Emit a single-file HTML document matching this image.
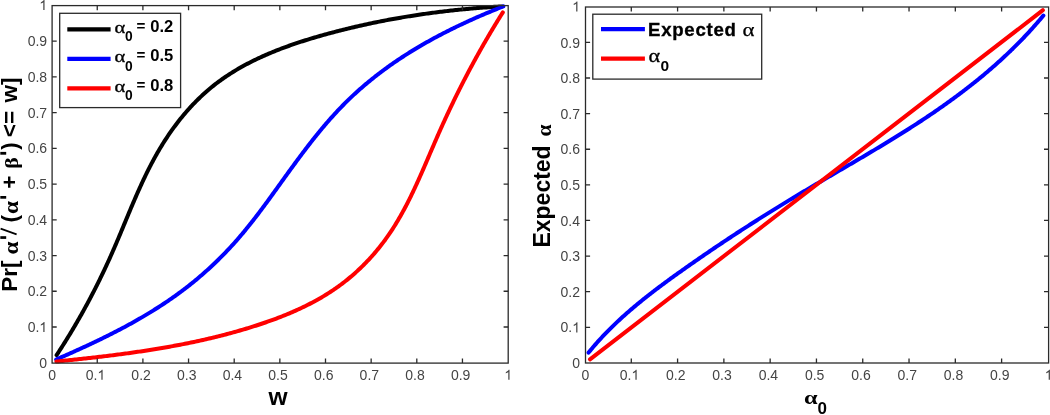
<!DOCTYPE html>
<html><head><meta charset="utf-8"><style>
html,body{margin:0;padding:0;background:#fff;}
body{width:1050px;height:415px;overflow:hidden;position:relative;}
svg{position:absolute;left:0;top:0;will-change:transform;}
.tk{font-family:"Liberation Sans",sans-serif;font-size:14px;fill:#444444;}
.b{font-family:"Liberation Sans",sans-serif;font-weight:bold;fill:#000;}
.g{font-family:"Liberation Serif",serif;fill:#000;}
</style></head><body>
<svg width="1050" height="415" viewBox="0 0 1050 415">
<rect width="1050" height="415" fill="#fff"/>
<g fill="none" stroke-linejoin="round" stroke-linecap="round" stroke-width="4.0">
<polyline points="56.59,355.17 57.44,353.87 58.29,352.57 59.14,351.26 59.98,349.95 60.82,348.65 61.66,347.34 62.49,346.03 63.32,344.72 64.15,343.40 64.97,342.09 65.80,340.77 66.61,339.46 67.43,338.14 68.24,336.82 69.05,335.50 69.85,334.17 70.65,332.85 71.45,331.52 72.24,330.19 73.04,328.87 73.82,327.54 74.61,326.20 75.39,324.87 76.17,323.54 76.95,322.20 77.72,320.86 78.49,319.52 79.25,318.18 80.02,316.84 80.78,315.50 81.54,314.15 82.29,312.80 83.04,311.45 83.79,310.10 84.53,308.75 85.27,307.40 86.01,306.05 86.75,304.69 87.48,303.33 88.21,301.97 88.94,300.61 89.66,299.25 90.38,297.89 91.10,296.52 91.81,295.15 92.52,293.79 93.23,292.42 93.94,291.04 94.64,289.67 95.34,288.30 96.03,286.92 96.73,285.54 97.42,284.16 98.10,282.78 98.79,281.40 99.47,280.01 100.15,278.63 100.83,277.24 101.50,275.85 102.17,274.46 102.84,273.07 103.50,271.67 104.16,270.28 104.82,268.88 105.47,267.48 106.13,266.08 106.78,264.68 107.42,263.27 108.07,261.87 108.71,260.46 109.35,259.05 109.98,257.64 110.62,256.23 111.25,254.81 111.88,253.40 112.50,251.98 113.12,250.56 113.74,249.14 114.36,247.72 114.97,246.29 115.58,244.87 116.19,243.44 116.80,242.01 117.41,240.58 118.01,239.15 118.62,237.72 119.22,236.29 119.82,234.86 120.42,233.42 121.02,231.99 121.62,230.56 122.21,229.12 122.81,227.68 123.41,226.25 124.00,224.81 124.60,223.38 125.19,221.94 125.79,220.50 126.39,219.07 126.98,217.63 127.58,216.19 128.18,214.76 128.78,213.32 129.38,211.89 129.98,210.45 130.58,209.02 131.18,207.59 131.79,206.15 132.40,204.72 133.00,203.29 133.61,201.86 134.23,200.43 134.84,199.01 135.46,197.58 136.08,196.16 136.70,194.73 137.33,193.31 137.95,191.89 138.58,190.47 139.22,189.06 139.86,187.64 140.50,186.23 141.14,184.82 141.79,183.41 142.44,182.00 143.10,180.60 143.76,179.20 144.42,177.80 145.09,176.40 145.76,175.00 146.44,173.61 147.13,172.22 147.81,170.84 148.51,169.45 149.20,168.07 149.91,166.69 150.62,165.32 151.33,163.95 152.05,162.58 152.78,161.21 153.51,159.85 154.25,158.49 155.00,157.14 155.75,155.79 156.51,154.44 157.27,153.10 158.04,151.76 158.82,150.42 159.61,149.09 160.40,147.76 161.20,146.44 162.01,145.12 162.82,143.81 163.65,142.50 164.48,141.19 165.31,139.89 166.16,138.60 167.01,137.31 167.86,136.02 168.73,134.74 169.60,133.47 170.48,132.20 171.37,130.93 172.26,129.68 173.17,128.42 174.07,127.18 174.99,125.94 175.91,124.70 176.85,123.47 177.78,122.25 178.73,121.03 179.68,119.82 180.64,118.62 181.61,117.43 182.59,116.24 183.57,115.05 184.56,113.88 185.56,112.71 186.56,111.55 187.58,110.39 188.60,109.24 189.62,108.10 190.66,106.97 191.70,105.85 192.75,104.73 193.81,103.62 194.88,102.52 195.95,101.43 197.03,100.34 198.12,99.27 199.21,98.20 200.32,97.14 201.43,96.09 202.55,95.05 203.67,94.02 204.81,92.99 205.95,91.98 207.10,90.97 208.26,89.97 209.42,88.98 210.59,88.01 211.77,87.04 212.96,86.08 214.16,85.13 215.36,84.19 216.57,83.26 217.79,82.34 219.02,81.43 220.25,80.52 221.49,79.63 222.74,78.75 223.99,77.88 225.26,77.01 226.52,76.16 227.80,75.31 229.08,74.47 230.37,73.64 231.67,72.82 232.97,72.01 234.28,71.21 235.59,70.41 236.91,69.63 238.24,68.85 239.57,68.08 240.90,67.32 242.25,66.57 243.60,65.82 244.95,65.08 246.31,64.35 247.68,63.63 249.05,62.92 250.42,62.21 251.80,61.51 253.19,60.82 254.58,60.14 255.98,59.46 257.38,58.79 258.78,58.13 260.19,57.48 261.60,56.83 263.02,56.19 264.44,55.56 265.87,54.93 267.30,54.31 268.73,53.69 270.17,53.09 271.61,52.49 273.05,51.89 274.50,51.30 275.95,50.72 277.41,50.15 278.87,49.58 280.33,49.01 281.79,48.46 283.26,47.90 284.73,47.36 286.20,46.82 287.68,46.28 289.16,45.75 290.64,45.23 292.12,44.71 293.61,44.20 295.09,43.69 296.58,43.19 298.07,42.69 299.57,42.20 301.06,41.71 302.56,41.23 304.06,40.75 305.56,40.28 307.06,39.81 308.56,39.34 310.06,38.88 311.57,38.43 313.07,37.98 314.58,37.53 316.09,37.09 317.60,36.65 319.10,36.21 320.61,35.78 322.12,35.36 323.63,34.93 325.14,34.51 326.65,34.10 328.17,33.68 329.68,33.28 331.19,32.87 332.70,32.47 334.21,32.07 335.72,31.67 337.23,31.28 338.74,30.89 340.24,30.50 341.75,30.12 343.26,29.74 344.77,29.37 346.28,28.99 347.79,28.62 349.30,28.26 350.81,27.90 352.32,27.54 353.83,27.18 355.34,26.82 356.85,26.47 358.35,26.13 359.86,25.78 361.37,25.44 362.88,25.10 364.39,24.77 365.90,24.44 367.41,24.11 368.92,23.79 370.43,23.46 371.94,23.14 373.45,22.83 374.96,22.52 376.47,22.21 377.98,21.90 379.49,21.59 381.00,21.29 382.51,21.00 384.03,20.70 385.54,20.41 387.05,20.12 388.56,19.84 390.07,19.55 391.59,19.27 393.10,19.00 394.61,18.72 396.13,18.45 397.64,18.19 399.16,17.92 400.67,17.66 402.19,17.40 403.70,17.14 405.22,16.89 406.73,16.64 408.25,16.39 409.77,16.15 411.29,15.91 412.80,15.67 414.32,15.43 415.84,15.20 417.36,14.97 418.88,14.74 420.40,14.52 421.92,14.29 423.44,14.07 424.97,13.86 426.49,13.64 428.01,13.43 429.54,13.23 431.06,13.02 432.59,12.82 434.11,12.62 435.64,12.42 437.17,12.23 438.69,12.04 440.22,11.85 441.75,11.66 443.28,11.48 444.81,11.30 446.34,11.12 447.88,10.94 449.41,10.77 450.94,10.60 452.48,10.43 454.01,10.27 455.55,10.10 457.08,9.94 458.62,9.79 460.16,9.63 461.70,9.48 463.24,9.33 464.78,9.18 466.32,9.04 467.86,8.90 469.41,8.76 470.95,8.62 472.50,8.48 474.04,8.35 475.59,8.22 477.14,8.10 478.69,7.97 480.24,7.85 481.79,7.73 483.34,7.61 484.89,7.50 486.45,7.39 488.00,7.28 489.56,7.17 491.12,7.06 492.68,6.96 494.24,6.86 495.80,6.76 497.36,6.67 498.92,6.57 500.48,6.48 502.05,6.40" stroke="#000"/>
<polyline points="56.15,359.47 57.46,358.90 58.77,358.34 60.08,357.77 61.39,357.19 62.70,356.62 64.02,356.05 65.33,355.47 66.65,354.89 67.96,354.31 69.28,353.73 70.59,353.14 71.91,352.56 73.23,351.97 74.54,351.38 75.86,350.79 77.18,350.19 78.50,349.59 79.81,349.00 81.13,348.39 82.45,347.79 83.77,347.19 85.08,346.58 86.40,345.97 87.72,345.35 89.04,344.74 90.35,344.12 91.67,343.50 92.99,342.88 94.30,342.26 95.62,341.63 96.93,341.00 98.24,340.37 99.56,339.73 100.87,339.09 102.18,338.45 103.49,337.81 104.80,337.17 106.11,336.52 107.42,335.87 108.73,335.21 110.03,334.56 111.34,333.90 112.64,333.23 113.95,332.57 115.25,331.90 116.55,331.23 117.85,330.55 119.15,329.88 120.44,329.20 121.74,328.51 123.03,327.83 124.32,327.14 125.61,326.44 126.90,325.75 128.19,325.05 129.47,324.35 130.75,323.64 132.04,322.93 133.32,322.22 134.59,321.50 135.87,320.78 137.14,320.06 138.41,319.33 139.68,318.60 140.95,317.87 142.21,317.13 143.48,316.39 144.74,315.65 145.99,314.90 147.25,314.15 148.50,313.40 149.75,312.64 151.00,311.87 152.25,311.11 153.49,310.34 154.73,309.56 155.96,308.79 157.20,308.01 158.43,307.22 159.66,306.43 160.88,305.64 162.10,304.84 163.32,304.04 164.54,303.23 165.75,302.42 166.96,301.61 168.17,300.79 169.37,299.97 170.57,299.14 171.77,298.31 172.96,297.48 174.15,296.64 175.33,295.79 176.52,294.94 177.70,294.09 178.87,293.24 180.04,292.37 181.21,291.51 182.37,290.64 183.53,289.76 184.69,288.88 185.84,288.00 186.99,287.11 188.13,286.22 189.27,285.32 190.41,284.42 191.54,283.52 192.67,282.61 193.79,281.69 194.91,280.77 196.03,279.85 197.14,278.92 198.25,277.99 199.36,277.06 200.46,276.11 201.56,275.17 202.65,274.22 203.74,273.27 204.83,272.31 205.91,271.35 206.99,270.38 208.06,269.41 209.13,268.44 210.19,267.46 211.26,266.48 212.31,265.49 213.37,264.50 214.42,263.50 215.46,262.50 216.50,261.50 217.54,260.49 218.58,259.48 219.60,258.46 220.63,257.44 221.65,256.42 222.67,255.39 223.68,254.35 224.69,253.32 225.70,252.28 226.70,251.23 227.69,250.18 228.69,249.13 229.68,248.07 230.66,247.01 231.64,245.94 232.62,244.88 233.59,243.80 234.56,242.72 235.52,241.64 236.48,240.56 237.43,239.47 238.39,238.38 239.33,237.28 240.28,236.18 241.21,235.07 242.15,233.97 243.08,232.85 244.01,231.74 244.93,230.62 245.86,229.50 246.77,228.37 247.69,227.25 248.60,226.12 249.51,224.98 250.41,223.84 251.31,222.71 252.21,221.56 253.11,220.42 254.00,219.27 254.89,218.12 255.78,216.97 256.67,215.81 257.55,214.66 258.43,213.50 259.31,212.34 260.19,211.17 261.06,210.01 261.94,208.84 262.81,207.67 263.68,206.50 264.54,205.33 265.41,204.16 266.28,202.98 267.14,201.81 268.00,200.63 268.86,199.45 269.72,198.27 270.58,197.09 271.44,195.91 272.29,194.73 273.15,193.54 274.01,192.36 274.86,191.18 275.72,189.99 276.57,188.81 277.42,187.62 278.28,186.43 279.13,185.25 279.98,184.06 280.83,182.88 281.69,181.69 282.54,180.50 283.39,179.32 284.25,178.13 285.10,176.95 285.95,175.76 286.81,174.58 287.66,173.39 288.52,172.21 289.38,171.03 290.23,169.85 291.09,168.66 291.95,167.48 292.81,166.31 293.67,165.13 294.54,163.95 295.40,162.77 296.26,161.60 297.13,160.43 298.00,159.25 298.87,158.08 299.74,156.91 300.61,155.74 301.48,154.58 302.36,153.41 303.23,152.25 304.11,151.09 304.99,149.93 305.87,148.77 306.76,147.61 307.64,146.46 308.53,145.31 309.42,144.16 310.32,143.01 311.21,141.87 312.11,140.72 313.01,139.58 313.91,138.44 314.82,137.31 315.73,136.18 316.64,135.05 317.55,133.92 318.47,132.79 319.39,131.67 320.31,130.55 321.23,129.43 322.16,128.32 323.09,127.21 324.03,126.10 324.97,125.00 325.91,123.90 326.85,122.80 327.80,121.71 328.75,120.62 329.71,119.53 330.67,118.45 331.63,117.37 332.60,116.29 333.57,115.22 334.54,114.15 335.52,113.09 336.51,112.03 337.49,110.97 338.48,109.92 339.48,108.87 340.48,107.83 341.48,106.79 342.49,105.75 343.51,104.72 344.52,103.69 345.55,102.67 346.57,101.66 347.61,100.64 348.64,99.63 349.68,98.63 350.73,97.63 351.78,96.64 352.84,95.65 353.90,94.66 354.96,93.68 356.03,92.71 357.10,91.74 358.18,90.77 359.26,89.81 360.35,88.85 361.44,87.89 362.53,86.95 363.63,86.00 364.74,85.06 365.84,84.13 366.96,83.19 368.07,82.27 369.19,81.34 370.31,80.43 371.44,79.51 372.57,78.60 373.71,77.70 374.85,76.80 375.99,75.90 377.14,75.01 378.29,74.13 379.45,73.24 380.60,72.36 381.77,71.49 382.93,70.62 384.10,69.75 385.27,68.89 386.45,68.04 387.63,67.18 388.81,66.33 390.00,65.49 391.19,64.65 392.38,63.82 393.58,62.98 394.78,62.16 395.98,61.33 397.19,60.52 398.40,59.70 399.61,58.89 400.83,58.08 402.05,57.28 403.27,56.48 404.50,55.69 405.72,54.90 406.96,54.12 408.19,53.33 409.43,52.56 410.67,51.78 411.91,51.02 413.16,50.25 414.40,49.49 415.65,48.73 416.91,47.98 418.16,47.23 419.42,46.49 420.69,45.75 421.95,45.01 423.22,44.28 424.48,43.55 425.76,42.82 427.03,42.10 428.31,41.39 429.58,40.67 430.86,39.96 432.15,39.26 433.43,38.56 434.72,37.86 436.01,37.17 437.30,36.48 438.59,35.79 439.89,35.11 441.18,34.43 442.48,33.76 443.78,33.08 445.08,32.42 446.38,31.75 447.69,31.09 449.00,30.44 450.30,29.78 451.61,29.13 452.92,28.49 454.24,27.85 455.55,27.21 456.86,26.57 458.18,25.94 459.50,25.31 460.81,24.69 462.13,24.07 463.45,23.45 464.77,22.83 466.09,22.22 467.42,21.62 468.74,21.01 470.06,20.41 471.39,19.81 472.72,19.22 474.04,18.63 475.37,18.04 476.70,17.45 478.02,16.87 479.35,16.29 480.68,15.72 482.01,15.15 483.34,14.58 484.67,14.01 486.00,13.45 487.33,12.89 488.66,12.33 489.99,11.78 491.32,11.23 492.65,10.68 493.98,10.14 495.31,9.60 496.64,9.06 497.96,8.52 499.29,7.99 500.62,7.46 501.95,6.93 503.28,6.41" stroke="#0000ff"/>
<polyline points="56.39,361.54 57.93,361.39 59.47,361.23 61.00,361.07 62.54,360.91 64.07,360.75 65.61,360.59 67.15,360.43 68.68,360.27 70.22,360.10 71.75,359.94 73.29,359.78 74.83,359.61 76.36,359.45 77.90,359.28 79.43,359.11 80.97,358.95 82.50,358.78 84.04,358.61 85.57,358.44 87.11,358.27 88.64,358.09 90.17,357.92 91.71,357.75 93.24,357.57 94.78,357.39 96.31,357.22 97.84,357.04 99.38,356.86 100.91,356.67 102.44,356.49 103.98,356.31 105.51,356.12 107.04,355.93 108.57,355.74 110.11,355.55 111.64,355.36 113.17,355.17 114.70,354.97 116.23,354.78 117.76,354.58 119.30,354.38 120.83,354.18 122.36,353.98 123.89,353.77 125.42,353.56 126.95,353.36 128.48,353.15 130.01,352.93 131.53,352.72 133.06,352.50 134.59,352.29 136.12,352.07 137.65,351.85 139.18,351.62 140.70,351.40 142.23,351.17 143.76,350.94 145.28,350.70 146.81,350.47 148.34,350.23 149.86,349.99 151.39,349.75 152.91,349.51 154.44,349.26 155.96,349.01 157.48,348.76 159.01,348.51 160.53,348.25 162.05,347.99 163.58,347.73 165.10,347.47 166.62,347.20 168.14,346.93 169.66,346.66 171.19,346.39 172.71,346.11 174.23,345.83 175.75,345.55 177.27,345.26 178.78,344.97 180.30,344.68 181.82,344.39 183.34,344.09 184.86,343.79 186.37,343.49 187.89,343.18 189.41,342.87 190.92,342.56 192.44,342.24 193.95,341.93 195.47,341.60 196.98,341.28 198.49,340.95 200.01,340.62 201.52,340.28 203.03,339.94 204.54,339.60 206.05,339.26 207.57,338.91 209.08,338.55 210.59,338.20 212.09,337.84 213.60,337.47 215.11,337.11 216.62,336.74 218.13,336.36 219.63,335.99 221.14,335.60 222.65,335.22 224.15,334.83 225.66,334.44 227.16,334.04 228.66,333.64 230.17,333.23 231.67,332.82 233.17,332.41 234.67,331.99 236.17,331.57 237.67,331.15 239.17,330.72 240.67,330.29 242.17,329.85 243.67,329.41 245.17,328.96 246.66,328.51 248.16,328.06 249.66,327.60 251.15,327.13 252.65,326.67 254.14,326.19 255.63,325.72 257.12,325.23 258.61,324.75 260.10,324.26 261.59,323.76 263.08,323.26 264.56,322.75 266.05,322.24 267.53,321.73 269.01,321.20 270.49,320.68 271.96,320.14 273.44,319.61 274.91,319.06 276.38,318.51 277.84,317.96 279.31,317.39 280.77,316.83 282.23,316.25 283.68,315.67 285.14,315.09 286.58,314.50 288.03,313.90 289.47,313.29 290.91,312.68 292.35,312.06 293.78,311.44 295.21,310.81 296.63,310.17 298.05,309.52 299.47,308.87 300.88,308.21 302.29,307.55 303.69,306.87 305.09,306.19 306.48,305.50 307.87,304.81 309.25,304.10 310.63,303.39 312.00,302.67 313.37,301.95 314.74,301.21 316.09,300.47 317.45,299.72 318.79,298.96 320.13,298.19 321.47,297.42 322.80,296.64 324.12,295.84 325.44,295.04 326.75,294.23 328.05,293.42 329.35,292.59 330.64,291.75 331.92,290.91 333.20,290.06 334.47,289.19 335.73,288.32 336.99,287.44 338.24,286.55 339.48,285.65 340.71,284.74 341.94,283.82 343.16,282.90 344.37,281.96 345.57,281.02 346.77,280.07 347.96,279.10 349.14,278.13 350.32,277.16 351.48,276.17 352.64,275.17 353.80,274.17 354.94,273.16 356.08,272.13 357.21,271.11 358.33,270.07 359.44,269.02 360.55,267.97 361.65,266.91 362.74,265.84 363.82,264.76 364.90,263.68 365.96,262.58 367.02,261.48 368.07,260.37 369.12,259.26 370.15,258.13 371.18,257.00 372.20,255.87 373.21,254.72 374.22,253.57 375.21,252.41 376.20,251.24 377.18,250.07 378.15,248.89 379.11,247.70 380.06,246.50 381.01,245.30 381.95,244.09 382.88,242.88 383.80,241.65 384.71,240.43 385.62,239.19 386.51,237.95 387.40,236.70 388.28,235.45 389.15,234.19 390.01,232.92 390.86,231.65 391.71,230.37 392.55,229.08 393.38,227.79 394.20,226.49 395.01,225.19 395.82,223.89 396.62,222.57 397.41,221.25 398.19,219.93 398.97,218.60 399.74,217.27 400.51,215.93 401.27,214.59 402.02,213.24 402.76,211.89 403.50,210.54 404.24,209.18 404.97,207.81 405.69,206.45 406.40,205.07 407.12,203.70 407.82,202.32 408.52,200.94 409.22,199.55 409.91,198.16 410.60,196.77 411.28,195.37 411.96,193.97 412.63,192.57 413.30,191.16 413.97,189.76 414.63,188.35 415.29,186.93 415.95,185.52 416.60,184.10 417.25,182.68 417.89,181.26 418.54,179.84 419.18,178.41 419.82,176.99 420.45,175.56 421.08,174.13 421.71,172.70 422.34,171.27 422.97,169.83 423.60,168.40 424.22,166.97 424.84,165.53 425.46,164.09 426.08,162.66 426.70,161.22 427.32,159.78 427.94,158.34 428.55,156.90 429.17,155.47 429.79,154.03 430.40,152.59 431.02,151.15 431.63,149.72 432.25,148.28 432.87,146.84 433.48,145.41 434.10,143.97 434.72,142.54 435.34,141.11 435.96,139.68 436.58,138.25 437.21,136.82 437.83,135.39 438.46,133.97 439.09,132.54 439.72,131.12 440.35,129.70 440.99,128.28 441.62,126.87 442.26,125.45 442.90,124.04 443.54,122.63 444.19,121.22 444.83,119.81 445.48,118.40 446.13,116.99 446.78,115.59 447.44,114.19 448.09,112.79 448.75,111.39 449.41,109.99 450.07,108.59 450.73,107.20 451.40,105.80 452.07,104.41 452.74,103.02 453.41,101.63 454.08,100.24 454.76,98.85 455.43,97.47 456.11,96.08 456.80,94.70 457.48,93.32 458.17,91.94 458.85,90.56 459.54,89.18 460.24,87.81 460.93,86.43 461.63,85.06 462.33,83.68 463.03,82.31 463.73,80.94 464.44,79.57 465.15,78.21 465.86,76.84 466.57,75.47 467.29,74.11 468.00,72.75 468.72,71.38 469.44,70.02 470.17,68.66 470.90,67.30 471.62,65.94 472.36,64.59 473.09,63.23 473.83,61.88 474.56,60.52 475.31,59.17 476.05,57.82 476.79,56.47 477.54,55.12 478.29,53.77 479.05,52.42 479.80,51.07 480.56,49.73 481.32,48.38 482.08,47.04 482.85,45.69 483.62,44.35 484.39,43.01 485.16,41.67 485.94,40.32 486.72,38.99 487.50,37.65 488.28,36.31 489.07,34.97 489.86,33.63 490.65,32.30 491.45,30.96 492.24,29.63 493.04,28.29 493.84,26.96 494.65,25.63 495.46,24.30 496.27,22.97 497.08,21.64 497.90,20.31 498.72,18.98 499.54,17.65 500.36,16.32 501.19,14.99 502.02,13.66 502.85,12.34" stroke="#ff0000"/>
<polyline points="588.59,352.59 589.50,351.47 590.41,350.37 591.32,349.27 592.24,348.17 593.16,347.08 594.09,345.99 595.03,344.91 595.97,343.84 596.91,342.77 597.86,341.70 598.81,340.64 599.77,339.59 600.74,338.54 601.70,337.49 602.68,336.45 603.65,335.42 604.63,334.39 605.62,333.36 606.61,332.34 607.60,331.33 608.60,330.31 609.61,329.31 610.61,328.30 611.62,327.31 612.64,326.31 613.66,325.32 614.68,324.34 615.71,323.36 616.74,322.38 617.77,321.41 618.81,320.44 619.85,319.47 620.90,318.51 621.95,317.55 623.00,316.60 624.06,315.65 625.12,314.71 626.18,313.76 627.24,312.83 628.31,311.89 629.39,310.96 630.46,310.03 631.54,309.11 632.62,308.19 633.71,307.27 634.79,306.36 635.88,305.44 636.98,304.54 638.07,303.63 639.17,302.73 640.27,301.83 641.38,300.93 642.48,300.04 643.59,299.15 644.71,298.26 645.82,297.38 646.94,296.50 648.05,295.62 649.17,294.74 650.30,293.86 651.42,292.99 652.55,292.12 653.68,291.26 654.81,290.39 655.94,289.53 657.08,288.67 658.21,287.81 659.35,286.95 660.49,286.10 661.64,285.25 662.78,284.40 663.92,283.55 665.07,282.70 666.22,281.86 667.37,281.01 668.52,280.17 669.67,279.33 670.82,278.49 671.98,277.66 673.13,276.82 674.29,275.99 675.45,275.16 676.61,274.32 677.76,273.49 678.93,272.67 680.09,271.84 681.25,271.01 682.41,270.19 683.57,269.36 684.74,268.54 685.90,267.72 687.07,266.89 688.23,266.07 689.40,265.25 690.57,264.44 691.74,263.62 692.91,262.80 694.08,261.99 695.25,261.17 696.42,260.36 697.59,259.55 698.76,258.74 699.93,257.93 701.11,257.12 702.28,256.31 703.46,255.50 704.63,254.70 705.81,253.89 706.99,253.09 708.16,252.28 709.34,251.48 710.52,250.68 711.70,249.88 712.88,249.08 714.06,248.28 715.24,247.48 716.43,246.69 717.61,245.89 718.79,245.10 719.98,244.31 721.16,243.51 722.35,242.72 723.53,241.93 724.72,241.14 725.91,240.35 727.10,239.57 728.29,238.78 729.48,237.99 730.67,237.21 731.86,236.43 733.05,235.64 734.24,234.86 735.43,234.08 736.63,233.30 737.82,232.52 739.02,231.74 740.21,230.97 741.41,230.19 742.60,229.42 743.80,228.64 745.00,227.87 746.20,227.10 747.40,226.33 748.60,225.56 749.80,224.79 751.00,224.02 752.20,223.25 753.40,222.48 754.60,221.72 755.81,220.95 757.01,220.19 758.22,219.43 759.42,218.66 760.63,217.90 761.83,217.14 763.04,216.38 764.25,215.62 765.46,214.87 766.67,214.11 767.88,213.35 769.09,212.60 770.30,211.85 771.51,211.09 772.72,210.34 773.93,209.59 775.14,208.84 776.36,208.09 777.57,207.34 778.79,206.59 780.00,205.85 781.22,205.10 782.44,204.36 783.65,203.61 784.87,202.87 786.09,202.13 787.31,201.38 788.53,200.64 789.75,199.90 790.97,199.17 792.19,198.43 793.41,197.69 794.63,196.95 795.86,196.22 797.08,195.48 798.30,194.75 799.53,194.02 800.75,193.29 801.98,192.55 803.20,191.82 804.43,191.09 805.66,190.37 806.89,189.64 808.11,188.91 809.34,188.18 810.57,187.46 811.80,186.73 813.03,186.01 814.26,185.28 815.49,184.56 816.72,183.83 817.95,183.11 819.18,182.39 820.41,181.66 821.64,180.94 822.88,180.22 824.11,179.50 825.34,178.78 826.57,178.06 827.80,177.34 829.04,176.62 830.27,175.90 831.50,175.18 832.74,174.46 833.97,173.74 835.20,173.02 836.43,172.30 837.67,171.58 838.90,170.86 840.13,170.14 841.37,169.42 842.60,168.70 843.83,167.98 845.06,167.26 846.30,166.54 847.53,165.82 848.76,165.10 849.99,164.38 851.23,163.66 852.46,162.93 853.69,162.21 854.92,161.49 856.15,160.77 857.38,160.05 858.61,159.32 859.84,158.60 861.07,157.87 862.30,157.15 863.53,156.42 864.76,155.70 865.99,154.97 867.21,154.24 868.44,153.52 869.67,152.79 870.89,152.06 872.12,151.33 873.35,150.60 874.57,149.87 875.80,149.14 877.02,148.40 878.24,147.67 879.47,146.93 880.69,146.20 881.91,145.46 883.13,144.72 884.35,143.99 885.57,143.25 886.79,142.51 888.01,141.76 889.22,141.02 890.44,140.28 891.65,139.53 892.87,138.79 894.08,138.04 895.30,137.29 896.51,136.54 897.72,135.79 898.93,135.04 900.14,134.28 901.35,133.53 902.56,132.77 903.76,132.01 904.97,131.25 906.17,130.49 907.38,129.73 908.58,128.97 909.78,128.20 910.98,127.43 912.18,126.67 913.38,125.90 914.58,125.12 915.78,124.35 916.97,123.57 918.17,122.80 919.36,122.02 920.55,121.24 921.74,120.46 922.93,119.67 924.12,118.88 925.30,118.10 926.49,117.31 927.67,116.51 928.86,115.72 930.04,114.92 931.22,114.13 932.40,113.33 933.57,112.52 934.75,111.72 935.92,110.91 937.10,110.11 938.27,109.29 939.44,108.48 940.61,107.67 941.77,106.85 942.94,106.03 944.10,105.21 945.26,104.39 946.42,103.56 947.58,102.73 948.74,101.90 949.90,101.07 951.05,100.23 952.20,99.39 953.35,98.55 954.50,97.71 955.65,96.87 956.79,96.02 957.93,95.17 959.07,94.32 960.21,93.46 961.35,92.61 962.49,91.75 963.62,90.88 964.75,90.02 965.88,89.15 967.01,88.28 968.13,87.41 969.26,86.54 970.38,85.66 971.50,84.78 972.61,83.89 973.73,83.01 974.84,82.12 975.95,81.23 977.06,80.34 978.17,79.44 979.27,78.54 980.37,77.64 981.47,76.73 982.57,75.83 983.66,74.91 984.75,74.00 985.84,73.08 986.93,72.17 988.02,71.24 989.10,70.32 990.18,69.39 991.26,68.46 992.33,67.53 993.41,66.59 994.48,65.65 995.54,64.71 996.61,63.76 997.67,62.81 998.73,61.86 999.79,60.90 1000.84,59.94 1001.90,58.98 1002.94,58.02 1003.99,57.05 1005.03,56.08 1006.08,55.10 1007.11,54.13 1008.15,53.15 1009.18,52.16 1010.21,51.18 1011.24,50.18 1012.26,49.19 1013.28,48.19 1014.30,47.19 1015.32,46.19 1016.33,45.18 1017.34,44.17 1018.34,43.16 1019.35,42.14 1020.35,41.12 1021.34,40.09 1022.34,39.07 1023.33,38.03 1024.32,37.00 1025.30,35.96 1026.28,34.92 1027.26,33.87 1028.24,32.82 1029.21,31.77 1030.18,30.71 1031.14,29.65 1032.10,28.59 1033.06,27.52 1034.02,26.45 1034.97,25.38 1035.92,24.30 1036.86,23.22 1037.80,22.13 1038.74,21.04 1039.67,19.95 1040.61,18.85 1041.53,17.75 1042.46,16.64 1043.38,15.53" stroke="#0000ff"/>
<polyline points="590.0,359.3 1042.9,10.2" stroke="#ff0000"/>
</g>
<rect x="52.1" y="5.6" width="456.10" height="357.50" fill="none" stroke="#2a2a2a" stroke-width="1.3"/>
<path d="M97.25,363.1 v-4.6 M97.25,5.6 v4.6 M52.1,326.98 h4.6 M508.2,326.98 h-4.6 M142.90,363.1 v-4.6 M142.90,5.6 v4.6 M52.1,291.26 h4.6 M508.2,291.26 h-4.6 M188.55,363.1 v-4.6 M188.55,5.6 v4.6 M52.1,255.54 h4.6 M508.2,255.54 h-4.6 M234.20,363.1 v-4.6 M234.20,5.6 v4.6 M52.1,219.82 h4.6 M508.2,219.82 h-4.6 M279.85,363.1 v-4.6 M279.85,5.6 v4.6 M52.1,184.10 h4.6 M508.2,184.10 h-4.6 M325.50,363.1 v-4.6 M325.50,5.6 v4.6 M52.1,148.38 h4.6 M508.2,148.38 h-4.6 M371.15,363.1 v-4.6 M371.15,5.6 v4.6 M52.1,112.66 h4.6 M508.2,112.66 h-4.6 M416.80,363.1 v-4.6 M416.80,5.6 v4.6 M52.1,76.94 h4.6 M508.2,76.94 h-4.6 M462.45,363.1 v-4.6 M462.45,5.6 v4.6 M52.1,41.22 h4.6 M508.2,41.22 h-4.6" stroke="#2a2a2a" stroke-width="1.3" fill="none"/>
<rect x="585.5" y="7.0" width="463.10" height="356.00" fill="none" stroke="#2a2a2a" stroke-width="1.3"/>
<path d="M631.29,363.0 v-4.6 M631.29,7.0 v4.6 M585.5,327.29 h4.6 M1048.6,327.29 h-4.6 M677.58,363.0 v-4.6 M677.58,7.0 v4.6 M585.5,291.68 h4.6 M1048.6,291.68 h-4.6 M723.87,363.0 v-4.6 M723.87,7.0 v4.6 M585.5,256.07 h4.6 M1048.6,256.07 h-4.6 M770.16,363.0 v-4.6 M770.16,7.0 v4.6 M585.5,220.46 h4.6 M1048.6,220.46 h-4.6 M816.45,363.0 v-4.6 M816.45,7.0 v4.6 M585.5,184.85 h4.6 M1048.6,184.85 h-4.6 M862.74,363.0 v-4.6 M862.74,7.0 v4.6 M585.5,149.24 h4.6 M1048.6,149.24 h-4.6 M909.03,363.0 v-4.6 M909.03,7.0 v4.6 M585.5,113.63 h4.6 M1048.6,113.63 h-4.6 M955.32,363.0 v-4.6 M955.32,7.0 v4.6 M585.5,78.02 h4.6 M1048.6,78.02 h-4.6 M1001.61,363.0 v-4.6 M1001.61,7.0 v4.6 M585.5,42.41 h4.6 M1048.6,42.41 h-4.6" stroke="#2a2a2a" stroke-width="1.3" fill="none"/>
<text x="48.21" y="379.80" class="tk">0</text>
<text x="39.32" y="368.20" class="tk">0</text>
<text x="85.72" y="379.80" class="tk">0.</text>
<path d="M372,0 H284 V560 Q252,530 200,500 Q148,470 107,455 V540 Q180,574 235,622 Q290,670 313,716 H372 Z" transform="translate(97.40,379.80) scale(0.0140,-0.0140)" fill="#444444"/>
<text x="27.64" y="332.08" class="tk">0.</text>
<path d="M372,0 H284 V560 Q252,530 200,500 Q148,470 107,455 V540 Q180,574 235,622 Q290,670 313,716 H372 Z" transform="translate(39.32,332.08) scale(0.0140,-0.0140)" fill="#444444"/>
<text x="131.37" y="379.80" class="tk">0.2</text>
<text x="27.64" y="296.36" class="tk">0.2</text>
<text x="177.02" y="379.80" class="tk">0.3</text>
<text x="27.64" y="260.64" class="tk">0.3</text>
<text x="222.67" y="379.80" class="tk">0.4</text>
<text x="27.64" y="224.92" class="tk">0.4</text>
<text x="268.32" y="379.80" class="tk">0.5</text>
<text x="27.64" y="189.20" class="tk">0.5</text>
<text x="313.97" y="379.80" class="tk">0.6</text>
<text x="27.64" y="153.48" class="tk">0.6</text>
<text x="359.62" y="379.80" class="tk">0.7</text>
<text x="27.64" y="117.76" class="tk">0.7</text>
<text x="405.27" y="379.80" class="tk">0.8</text>
<text x="27.64" y="82.04" class="tk">0.8</text>
<text x="450.92" y="379.80" class="tk">0.9</text>
<text x="27.64" y="46.32" class="tk">0.9</text>
<path d="M372,0 H284 V560 Q252,530 200,500 Q148,470 107,455 V540 Q180,574 235,622 Q290,670 313,716 H372 Z" transform="translate(504.31,379.80) scale(0.0140,-0.0140)" fill="#444444"/>
<path d="M372,0 H284 V560 Q252,530 200,500 Q148,470 107,455 V540 Q180,574 235,622 Q290,670 313,716 H372 Z" transform="translate(39.32,10.00) scale(0.0140,-0.0140)" fill="#444444"/>
<text x="581.61" y="379.80" class="tk">0</text>
<text x="572.22" y="368.10" class="tk">0</text>
<text x="619.76" y="379.80" class="tk">0.</text>
<path d="M372,0 H284 V560 Q252,530 200,500 Q148,470 107,455 V540 Q180,574 235,622 Q290,670 313,716 H372 Z" transform="translate(631.44,379.80) scale(0.0140,-0.0140)" fill="#444444"/>
<text x="560.54" y="332.39" class="tk">0.</text>
<path d="M372,0 H284 V560 Q252,530 200,500 Q148,470 107,455 V540 Q180,574 235,622 Q290,670 313,716 H372 Z" transform="translate(572.22,332.39) scale(0.0140,-0.0140)" fill="#444444"/>
<text x="666.05" y="379.80" class="tk">0.2</text>
<text x="560.54" y="296.78" class="tk">0.2</text>
<text x="712.34" y="379.80" class="tk">0.3</text>
<text x="560.54" y="261.17" class="tk">0.3</text>
<text x="758.63" y="379.80" class="tk">0.4</text>
<text x="560.54" y="225.56" class="tk">0.4</text>
<text x="804.92" y="379.80" class="tk">0.5</text>
<text x="560.54" y="189.95" class="tk">0.5</text>
<text x="851.21" y="379.80" class="tk">0.6</text>
<text x="560.54" y="154.34" class="tk">0.6</text>
<text x="897.50" y="379.80" class="tk">0.7</text>
<text x="560.54" y="118.73" class="tk">0.7</text>
<text x="943.79" y="379.80" class="tk">0.8</text>
<text x="560.54" y="83.12" class="tk">0.8</text>
<text x="990.08" y="379.80" class="tk">0.9</text>
<text x="560.54" y="47.51" class="tk">0.9</text>
<path d="M372,0 H284 V560 Q252,530 200,500 Q148,470 107,455 V540 Q180,574 235,622 Q290,670 313,716 H372 Z" transform="translate(1044.71,379.80) scale(0.0140,-0.0140)" fill="#444444"/>
<path d="M372,0 H284 V560 Q252,530 200,500 Q148,470 107,455 V540 Q180,574 235,622 Q290,670 313,716 H372 Z" transform="translate(572.22,11.40) scale(0.0140,-0.0140)" fill="#444444"/>
<rect x="59.7" y="13.3" width="120.9" height="94.3" fill="#fff" stroke="#2a2a2a" stroke-width="1.3"/>
<path d="M67.3,29.3 H110.6" stroke="#000" stroke-width="4.2"/>
<text x="114.5" y="32.5" class="g" font-size="17" textLength="10.8" lengthAdjust="spacingAndGlyphs" stroke="#000" stroke-width="0.3">&#945;</text>
<text x="124.9" y="41.4" class="b" font-size="13.8">0</text>
<text x="136.5" y="30.7" class="b" font-size="15.2">=</text>
<text x="150.2" y="31.8" class="b" font-size="16.6">0.2</text>
<path d="M67.3,58.8 H110.6" stroke="#0000ff" stroke-width="4.2"/>
<text x="114.5" y="62.0" class="g" font-size="17" textLength="10.8" lengthAdjust="spacingAndGlyphs" stroke="#000" stroke-width="0.3">&#945;</text>
<text x="124.9" y="70.9" class="b" font-size="13.8">0</text>
<text x="136.5" y="60.2" class="b" font-size="15.2">=</text>
<text x="150.2" y="61.3" class="b" font-size="16.6">0.5</text>
<path d="M67.3,88.3 H110.6" stroke="#ff0000" stroke-width="4.2"/>
<text x="114.5" y="91.5" class="g" font-size="17" textLength="10.8" lengthAdjust="spacingAndGlyphs" stroke="#000" stroke-width="0.3">&#945;</text>
<text x="124.9" y="100.4" class="b" font-size="13.8">0</text>
<text x="136.5" y="89.7" class="b" font-size="15.2">=</text>
<text x="150.2" y="90.8" class="b" font-size="16.6">0.8</text>
<rect x="592.8" y="14.2" width="168.9" height="64.9" fill="#fff" stroke="#2a2a2a" stroke-width="1.3"/>
<path d="M601,29.2 H644.9" stroke="#0000ff" stroke-width="4.2"/>
<path d="M601,58.6 H644.9" stroke="#ff0000" stroke-width="4.2"/>
<text x="648" y="36.1" class="b" font-size="18.6" letter-spacing="0.75" stroke="#000" stroke-width="0.35">Expected</text>
<text x="742.6" y="36.3" class="g" font-size="18.5" textLength="12" lengthAdjust="spacingAndGlyphs" stroke="#000" stroke-width="0.25">&#945;</text>
<text x="648.6" y="61.8" class="g" font-size="18.5" textLength="11.6" lengthAdjust="spacingAndGlyphs" stroke="#000" stroke-width="0.3">&#945;</text>
<text x="660.6" y="71.0" class="b" font-size="15.5">0</text>
<text x="278" y="405.3" text-anchor="middle" class="b" font-size="24.5">w</text>
<text x="803.9" y="403.8" class="g" font-weight="bold" font-size="19" textLength="13.6" lengthAdjust="spacingAndGlyphs">&#945;</text>
<text x="817.6" y="414.3" class="b" font-size="17">0</text>
<text transform="translate(16.8,0) rotate(-90)" x="-291.8" y="0" class="b" font-size="22.5" >Pr[</text>
<text transform="translate(18.2,0) rotate(-90)" x="-254.5" y="0" class="g" font-size="20" font-weight="bold" textLength="13" lengthAdjust="spacingAndGlyphs">&#945;</text>
<rect x="0.3" y="236.2" width="5.9" height="2.7" fill="#000"/>
<path d="M0.6,228.6 L16.6,234.4" stroke="#000" stroke-width="1.7" fill="none"/>
<text transform="translate(16.8,0) rotate(-90)" x="-222.4" y="0" class="b" font-size="22.5" >(</text>
<text transform="translate(18.0,0) rotate(-90)" x="-214.1" y="0" class="g" font-size="20" font-weight="bold" textLength="13" lengthAdjust="spacingAndGlyphs">&#945;</text>
<rect x="0.3" y="196" width="5.9" height="2.7" fill="#000"/>
<text transform="translate(16.8,0) rotate(-90)" x="-188.8" y="0" class="b" font-size="22.5" >+</text>
<text transform="translate(17.7,0) rotate(-90)" x="-168.8" y="0" class="g" font-size="19" font-weight="bold" textLength="11.5" lengthAdjust="spacingAndGlyphs">&#946;</text>
<rect x="0.3" y="151.9" width="5.9" height="2.8" fill="#000"/>
<text transform="translate(16.8,0) rotate(-90)" x="-149.8" y="0" class="b" font-size="22.5" >)</text>
<text transform="translate(16.8,0) rotate(-90)" x="-137.2" y="0" class="b" font-size="22.5" >&lt;=</text>
<text transform="translate(16.8,0) rotate(-90)" x="-102.6" y="0" class="b" font-size="22.5" >w]</text>
<text transform="translate(549.8,0) rotate(-90)" x="-247.6" y="0" class="b" font-size="23" >Expected</text>
<text transform="translate(551.1,0) rotate(-90)" x="-136.4" y="0" class="g" font-size="20" font-weight="bold" textLength="12" lengthAdjust="spacingAndGlyphs">&#945;</text>
</svg>
</body></html>
